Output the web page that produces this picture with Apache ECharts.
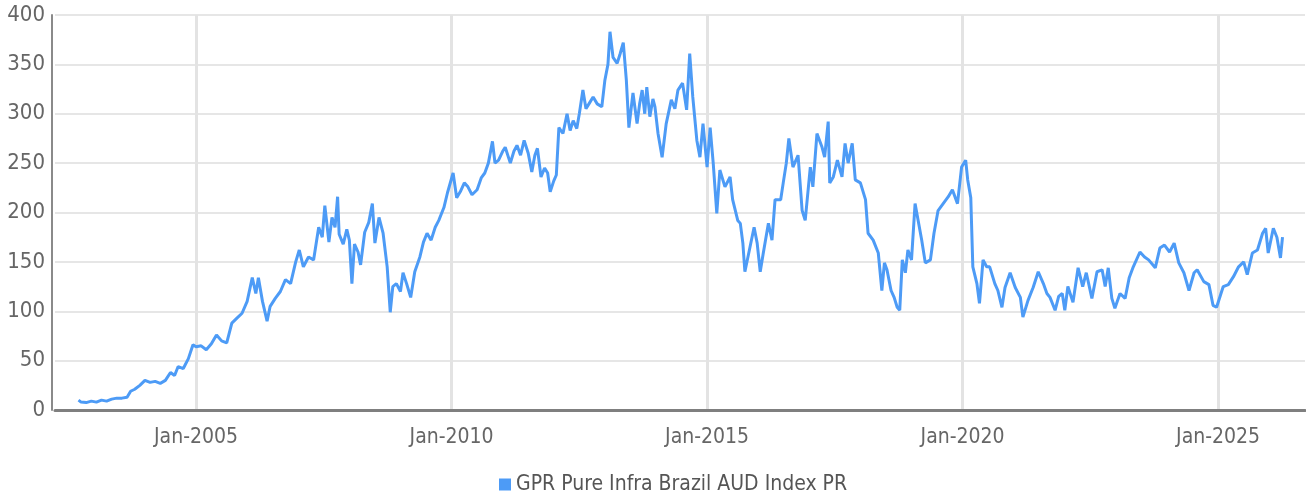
<!DOCTYPE html>
<html><head><meta charset="utf-8">
<script src="https://cdn.jsdelivr.net/npm/echarts@6/dist/echarts.min.js"></script>
<style>html,body{margin:0;padding:0;background:#fff}#c{width:1306px;height:494px}</style>
</head><body><div id="c"></div>
<script>
// fractional years (e.g. 2005.5 = mid-2005)
const years = [2002.70,2002.75,2002.85,2002.95,2003.05,2003.15,2003.25,2003.35,2003.45,2003.55,2003.65,2003.72,2003.80,2003.90,2004.00,2004.10,2004.20,2004.30,2004.40,2004.50,2004.58,2004.65,2004.75,2004.85,2004.94,2005.00,2005.10,2005.20,2005.30,2005.40,2005.50,2005.60,2005.70,2005.80,2005.90,2006.00,2006.10,2006.17,2006.22,2006.30,2006.39,2006.45,2006.55,2006.65,2006.75,2006.85,2006.95,2007.02,2007.10,2007.20,2007.30,2007.40,2007.47,2007.52,2007.60,2007.66,2007.72,2007.77,2007.80,2007.88,2007.95,2008.00,2008.05,2008.10,2008.17,2008.22,2008.30,2008.38,2008.45,2008.50,2008.58,2008.66,2008.74,2008.80,2008.85,2008.92,2009.00,2009.05,2009.12,2009.20,2009.28,2009.38,2009.45,2009.52,2009.60,2009.68,2009.75,2009.85,2009.92,2010.03,2010.10,2010.17,2010.25,2010.32,2010.40,2010.50,2010.58,2010.65,2010.72,2010.80,2010.85,2010.92,2011.00,2011.05,2011.15,2011.22,2011.28,2011.35,2011.42,2011.50,2011.57,2011.63,2011.68,2011.75,2011.82,2011.88,2011.93,2012.00,2012.05,2012.10,2012.18,2012.26,2012.32,2012.38,2012.45,2012.50,2012.57,2012.63,2012.70,2012.77,2012.85,2012.94,2013.00,2013.06,2013.10,2013.16,2013.24,2013.30,2013.36,2013.42,2013.47,2013.55,2013.63,2013.68,2013.73,2013.78,2013.82,2013.88,2013.94,2013.98,2014.04,2014.12,2014.20,2014.30,2014.37,2014.43,2014.52,2014.60,2014.66,2014.72,2014.80,2014.86,2014.92,2015.00,2015.06,2015.12,2015.19,2015.25,2015.35,2015.45,2015.50,2015.60,2015.65,2015.70,2015.74,2015.84,2015.92,2015.98,2016.04,2016.10,2016.20,2016.27,2016.33,2016.44,2016.49,2016.55,2016.60,2016.68,2016.78,2016.86,2016.92,2017.02,2017.07,2017.15,2017.25,2017.30,2017.37,2017.40,2017.47,2017.55,2017.64,2017.70,2017.76,2017.84,2017.90,2018.00,2018.10,2018.15,2018.25,2018.35,2018.42,2018.47,2018.52,2018.60,2018.66,2018.72,2018.77,2018.82,2018.88,2018.93,2019.00,2019.07,2019.13,2019.20,2019.27,2019.37,2019.44,2019.52,2019.62,2019.72,2019.80,2019.90,2019.98,2020.06,2020.10,2020.16,2020.20,2020.28,2020.33,2020.40,2020.47,2020.53,2020.63,2020.69,2020.77,2020.83,2020.93,2021.03,2021.13,2021.18,2021.28,2021.38,2021.48,2021.58,2021.65,2021.71,2021.81,2021.88,2021.95,2022.00,2022.06,2022.16,2022.26,2022.35,2022.42,2022.53,2022.63,2022.73,2022.79,2022.85,2022.92,2022.98,2023.08,2023.18,2023.26,2023.34,2023.47,2023.56,2023.64,2023.77,2023.86,2023.95,2024.05,2024.14,2024.23,2024.33,2024.43,2024.53,2024.59,2024.72,2024.82,2024.90,2024.97,2025.10,2025.20,2025.30,2025.40,2025.50,2025.57,2025.67,2025.77,2025.87,2025.93,2025.98,2026.08,2026.15,2026.22,2026.26];
const values = [10,8,7.5,9,8,10,9,11,12,12,13,19,21,25,30,28,29,27,30,38,35,44,42,52,66,64,65,61,67,76,70,68,88,93,98,110,134,118,134,110,90,105,113,120,132,128,150,162,145,155,152,185,175,207,170,195,185,216,178,168,183,172,128,168,160,147,180,190,209,169,195,179,145,99,125,128,120,139,128,114,140,155,170,179,172,185,192,205,220,240,215,221,230,226,218,223,235,240,250,272,250,253,262,266,250,262,268,258,273,260,241,258,265,236,245,240,221,232,238,286,280,300,283,293,285,300,324,305,311,317,310,307,334,350,383,357,351,361,372,334,286,321,290,310,324,300,327,297,315,307,280,256,290,314,305,324,331,304,361,317,273,256,290,246,286,250,199,243,226,236,213,192,189,169,140,165,185,169,140,159,189,172,213,213,230,250,275,246,258,202,192,246,226,280,266,256,292,230,236,253,236,270,250,270,233,230,213,179,172,159,121,149,142,121,114,104,101,152,139,162,152,209,192,172,149,152,179,202,209,216,223,209,246,253,233,215,145,128,108,152,145,145,128,121,104,124,139,124,114,94,111,124,140,128,118,114,101,115,118,101,125,109,144,125,139,113,140,142,125,144,113,103,118,113,134,145,160,155,152,144,164,167,160,169,149,139,121,139,142,130,127,106,104,125,127,135,145,150,137,159,162,179,184,159,184,175,154,175];
const tickYears = [2005, 2010, 2015, 2020, 2025];
const seriesName = 'GPR Pure Infra Brazil AUD Index PR';

const FONT = "'Liberation Sans Narrow','DejaVu Sans Condensed',Roboto,sans-serif";
const data = years.map((y, i) => [y, values[i]]);
const chart = echarts.init(document.getElementById('c'), null, {renderer: 'canvas'});
chart.setOption({
  animation: false,
  grid: {left: 55, right: 1, top: 15, bottom: 84, containLabel: false},
  legend: {
    bottom: -6, left: 494, itemWidth: 12, itemHeight: 12, icon: 'rect', itemGap: 10,
    textStyle: {fontFamily: FONT, fontSize: 21, color: '#555'}
  },
  xAxis: {
    type: 'value', min: 2002.24, max: 2026.70, offset: 2,
    axisLine: {show: true, lineStyle: {color: '#7f7f7f', width: 3}},
    axisTick: {show: false, customValues: tickYears},
    axisLabel: {customValues: tickYears, formatter: v => 'Jan-' + Math.round(v), fontFamily: FONT, fontSize: 21, color: '#666', margin: 15},
    splitLine: {show: true, lineStyle: {color: '#e3e3e3', width: 3}}
  },
  yAxis: {
    type: 'value', min: 0, max: 400, interval: 50, offset: 3,
    axisLine: {show: true, lineStyle: {color: '#8a8a8a', width: 2}},
    axisTick: {show: false},
    axisLabel: {fontFamily: FONT, fontSize: 22, color: '#666', margin: 7},
    splitLine: {lineStyle: {color: '#e6e6e6', width: 2}}
  },
  series: [{
    name: seriesName, type: 'line', data: data, showSymbol: false, symbol: 'none',
    lineStyle: {color: '#4d9bf6', width: 3}, itemStyle: {color: '#4d9bf6'}
  }]
});
</script></body></html>
